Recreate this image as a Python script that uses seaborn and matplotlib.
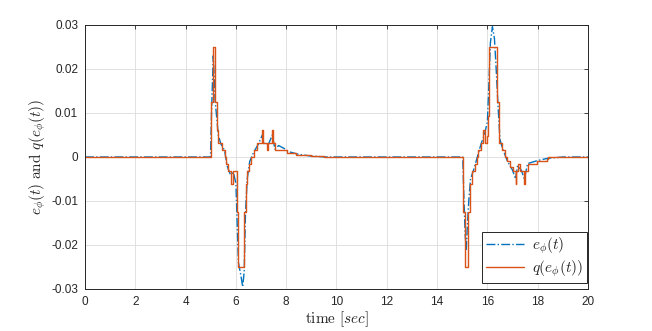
import numpy as np
import pandas as pd
import matplotlib
matplotlib.use("Agg")
import matplotlib.pyplot as plt
import matplotlib.ticker as mticker
import seaborn as sns

sns.set_theme(style="white")
plt.rcParams["font.family"] = ["Liberation Sans", "DejaVu Sans"]
plt.rcParams["mathtext.fontset"] = "cm"

# ------------------------------------------------------------------
# DATA
# ------------------------------------------------------------------
# e_phi(t): continuous error signal
e_t = [0.0, 4.99, 5.03, 5.10, 5.13, 5.17, 5.22, 5.30, 5.40, 5.55, 5.65, 5.78,
       5.90, 6.00, 6.05, 6.10, 6.20, 6.27, 6.33, 6.38, 6.45, 6.55, 6.70, 6.90,
       7.05, 7.12, 7.30, 7.45, 7.55, 7.70, 7.90, 8.10, 8.50, 9.00, 9.60,
       15.02, 15.06, 15.12, 15.16, 15.20, 15.26, 15.33, 15.45, 15.60, 15.75,
       15.88, 16.00, 16.05, 16.12, 16.20, 16.28, 16.35, 16.42, 16.50, 16.60,
       16.80, 17.00, 17.12, 17.20, 17.35, 17.47, 17.60, 18.00, 18.40, 19.00,
       20.0]
e_val = [0.0, 0.0, 0.010, 0.023, 0.019, 0.013, 0.010, 0.005, 0.003, 0.0015,
         -0.002, -0.004, -0.0035, -0.006, -0.015, -0.024, -0.027, -0.0295,
         -0.026, -0.013, -0.005, -0.001, 0.001, 0.003, 0.005, 0.003, 0.003,
         0.005, 0.0018, 0.0026, 0.002, 0.0012, 0.0006, 0.0002, 0.0,
         0.0, -0.008, -0.018, -0.021, -0.016, -0.010, -0.005, -0.003, 0.0,
         0.003, 0.005, 0.008, 0.015, 0.026, 0.0296, 0.027, 0.020, 0.012, 0.004,
         0.002, -0.001, -0.003, -0.005, -0.002, -0.003, -0.005, -0.0015,
         -0.0008, -0.0003, 0.0, 0.0]

# q(e_phi(t)): quantized signal (held between samples)
q_t = [0.0, 5.01, 5.07, 5.18, 5.24, 5.30, 5.43, 5.55, 5.61, 5.70, 5.81, 5.88,
       6.03, 6.07, 6.34, 6.40, 6.46, 6.52, 6.62, 6.72, 6.83, 7.03, 7.07, 7.23,
       7.27, 7.43, 7.47, 7.55, 8.02, 8.40, 9.00, 9.50,
       15.04, 15.11, 15.24, 15.31, 15.37, 15.51, 15.58, 15.64, 15.73, 15.84,
       15.90, 15.97, 16.04, 16.08, 16.37, 16.47, 16.57, 16.70, 16.77, 16.90,
       17.03, 17.12, 17.15, 17.23, 17.28, 17.46, 17.50, 17.60, 17.96, 18.36,
       18.42, 19.00, 20.0]
q_val = [0.0, 0.0124, 0.025, 0.0124, 0.0062, 0.0031, 0.0016, 0.0, -0.0016,
         -0.0031, -0.0062, -0.0031, -0.0124, -0.025, -0.0124, -0.0062,
         -0.0031, -0.0016, 0.0, 0.0016, 0.0031, 0.0062, 0.0031, 0.0016, 0.0031,
         0.0062, 0.0031, 0.0016, 0.0008, 0.0004, 0.0002, 0.0,
         -0.0124, -0.025, -0.0124, -0.0062, -0.0031, -0.0016, 0.0, 0.0016,
         0.0031, 0.0062, 0.0031, 0.0047, 0.0093, 0.025, 0.0124, 0.0031, 0.0016,
         0.0, -0.0008, -0.0023, -0.0031, -0.0062, -0.0031, -0.0016, -0.0031,
         -0.0062, -0.0031, -0.0016, -0.0008, -0.0004, -0.0001, 0.0, 0.0]

x_ticks = np.arange(0, 21, 2)
y_ticks = [-0.03, -0.02, -0.01, 0, 0.01, 0.02, 0.03]

df_e = pd.DataFrame({"t": e_t, "v": e_val})
df_q = pd.DataFrame({"t": q_t, "v": q_val})

# ------------------------------------------------------------------
# PLOT
# ------------------------------------------------------------------
fig = plt.figure(figsize=(6.52, 3.31), dpi=100)
ax = fig.add_axes([0.1304, 0.1269, 0.7714, 0.7976])

sns.lineplot(data=df_e, x="t", y="v", ax=ax, color="#0072BD", lw=1.0,
             linestyle="-.", sort=False, label=r"$e_\phi(t)$")
sns.lineplot(data=df_q, x="t", y="v", ax=ax, color="#D95319", lw=1.0,
             drawstyle="steps-post", sort=False, label=r"$q(e_\phi(t))$")

ax.set_xlim(0, 20)
ax.set_ylim(-0.03, 0.03)
ax.set_xticks(x_ticks)
ax.set_yticks(y_ticks)
ax.yaxis.set_major_formatter(
    mticker.FuncFormatter(lambda v, _: "0" if abs(v) < 1e-9 else f"{v:g}"))
ax.grid(True, color="#dcdcdc", lw=0.6)
ax.set_axisbelow(True)
ax.tick_params(direction="in", length=3, width=0.6, colors="#262626",
               labelsize=8.5, top=True, right=True, pad=5)
for s in ax.spines.values():
    s.set_color("#262626")
    s.set_linewidth(0.7)

ax.set_xlabel(r"$\mathrm{time}\ [sec]$", fontsize=11, labelpad=1)
ax.set_ylabel(r"$e_\phi(t)\ \mathrm{and}\ q(e_\phi(t))$", fontsize=11, labelpad=2)

leg = ax.legend(loc="lower right", bbox_to_anchor=(0.998, 0.023), fontsize=11,
                frameon=True, fancybox=False, edgecolor="#262626", framealpha=1,
                borderaxespad=0, handlelength=2.5, handletextpad=0.5,
                borderpad=0.25, labelspacing=0.15)
leg.get_frame().set_linewidth(0.7)

fig.savefig("out.png", dpi=100, facecolor="white")
